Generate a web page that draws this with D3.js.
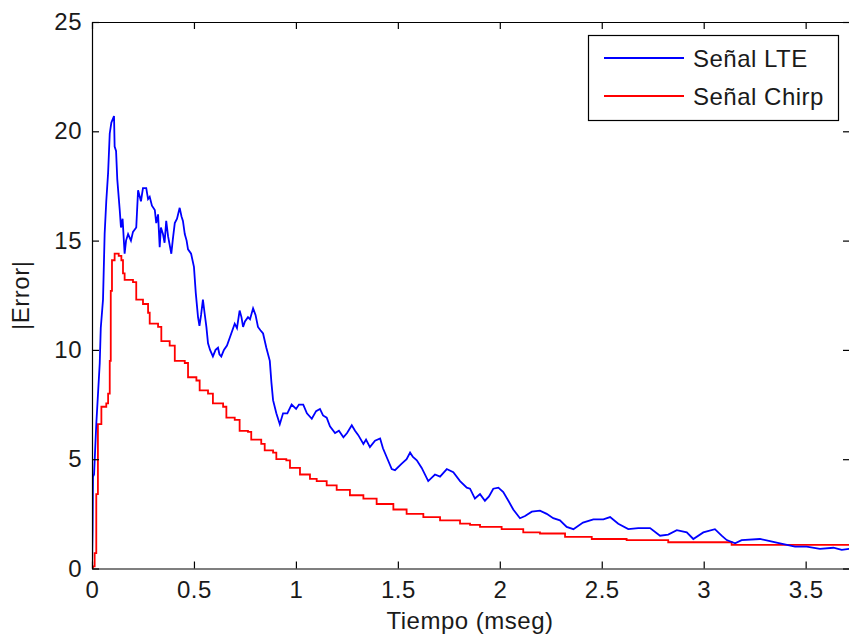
<!DOCTYPE html>
<html>
<head>
<meta charset="utf-8">
<script src="https://cdn.jsdelivr.net/npm/d3@7"></script>
<style>
  body { margin: 0; background: #fff; }
  svg text { font-family: "Liberation Sans", Arial, sans-serif; fill: #1a1a1a; letter-spacing: 0.5px; }
</style>
</head>
<body>
<div id="chart"></div>
<script>
const width = 849;
const height = 642;

// Señal LTE (tiempo en mseg, |error|)
const lteTime = [0, 0.003, 0.005, 0.010, 0.021, 0.038, 0.043, 0.054, 0.062, 0.070, 0.079, 0.087,
  0.095, 0.108, 0.111, 0.118, 0.124, 0.136, 0.142, 0.150, 0.160, 0.167, 0.177, 0.191, 0.201,
  0.217, 0.226, 0.240, 0.250, 0.266, 0.275, 0.283, 0.294, 0.308, 0.315, 0.324, 0.332, 0.338,
  0.348, 0.356, 0.364, 0.373, 0.389, 0.397, 0.406, 0.417, 0.430, 0.439, 0.446, 0.455, 0.464,
  0.471, 0.486, 0.500, 0.509, 0.520, 0.527, 0.535, 0.544, 0.552, 0.561, 0.569, 0.579, 0.593,
  0.606, 0.618, 0.625, 0.634, 0.647, 0.662, 0.683, 0.700, 0.711, 0.724, 0.733, 0.741, 0.750,
  0.765, 0.775, 0.790, 0.802, 0.814, 0.826, 0.839, 0.855, 0.872, 0.880, 0.888, 0.904, 0.921,
  0.937, 0.958, 0.979, 1.001, 1.015, 1.036, 1.054, 1.078, 1.099, 1.118, 1.133, 1.151, 1.167,
  1.192, 1.211, 1.233, 1.251, 1.274, 1.290, 1.306, 1.331, 1.344, 1.363, 1.388, 1.413, 1.427,
  1.445, 1.470, 1.486, 1.519, 1.543, 1.560, 1.574, 1.593, 1.617, 1.649, 1.682, 1.707, 1.740,
  1.772, 1.805, 1.838, 1.854, 1.878, 1.903, 1.927, 1.947, 1.968, 1.993, 2.017, 2.042, 2.066,
  2.099, 2.124, 2.157, 2.197, 2.230, 2.262, 2.295, 2.328, 2.361, 2.408, 2.459, 2.508, 2.541,
  2.581, 2.630, 2.679, 2.737, 2.786, 2.826, 2.868, 2.917, 2.949, 2.998, 3.055, 3.088, 3.113,
  3.154, 3.186, 3.276, 3.325, 3.374, 3.448, 3.505, 3.570, 3.636, 3.677, 3.713];
const lteError = [0, 1.8, 4.2, 4.3, 6.6, 9.4, 11.0, 12.3, 15.3, 16.8, 18.1, 19.9,
  20.4, 20.7, 19.3, 19.1, 17.8, 16.4, 15.6, 16.0, 14.4, 15.0, 15.3, 15.0, 15.4,
  15.6, 17.3, 16.8, 17.4, 17.4, 16.9, 17.0, 16.6, 16.4, 15.8, 16.2, 14.7, 15.6,
  15.3, 14.9, 15.9, 15.2, 14.4, 15.1, 15.8, 16.0, 16.5, 16.1, 15.9, 15.3, 15.0,
  14.6, 14.4, 13.8, 12.6, 11.5, 11.1, 11.6, 12.3, 11.7, 11.05, 10.3, 10.0, 9.7,
  10.0, 10.1, 9.8, 9.7, 10.0, 10.2, 10.75, 11.2, 11.0, 11.8, 11.5, 11.05, 11.3,
  11.5, 11.4, 11.9, 11.6, 11.05, 10.9, 10.75, 10.1, 9.5, 8.5, 7.7, 7.1, 6.6,
  7.1, 7.1, 7.5, 7.3, 7.5, 7.5, 7.1, 6.85, 7.2, 7.3, 7.0, 6.9, 6.5,
  6.2, 6.3, 6.0, 6.2, 6.55, 6.3, 6.1, 5.7, 5.9, 5.55, 5.85, 5.95, 5.5,
  5.1, 4.55, 4.5, 4.8, 5.0, 5.3, 5.1, 4.95, 4.6, 4.0, 4.3, 4.2, 4.55,
  4.4, 4.0, 3.7, 3.65, 3.2, 3.4, 3.1, 3.3, 3.65, 3.7, 3.5, 3.1, 2.7,
  2.3, 2.4, 2.6, 2.65, 2.5, 2.3, 2.2, 1.9, 1.8, 2.1, 2.25, 2.25, 2.35,
  2.05, 1.8, 1.85, 1.85, 1.5, 1.55, 1.75, 1.65, 1.35, 1.65, 1.8, 1.5, 1.3,
  1.15, 1.3, 1.35, 1.25, 1.15, 1.0, 1.0, 0.9, 0.95, 0.85, 0.9];

// Señal Chirp (escalonada)
const chirpTime = [0, 0.005, 0.013, 0.021, 0.029, 0.046, 0.070, 0.079, 0.087, 0.092, 0.098,
  0.111, 0.131, 0.144, 0.152, 0.160, 0.201, 0.217, 0.250, 0.275, 0.283, 0.324, 0.340, 0.381,
  0.406, 0.455, 0.471, 0.512, 0.528, 0.569, 0.593, 0.643, 0.659, 0.700, 0.724, 0.765, 0.781,
  0.830, 0.847, 0.888, 0.904, 0.953, 0.971, 1.020, 1.069, 1.102, 1.151, 1.200, 1.265, 1.331,
  1.396, 1.478, 1.543, 1.625, 1.707, 1.805, 1.854, 1.903, 2.009, 2.115, 2.197, 2.320, 2.451,
  2.622, 2.826, 3.137, 3.713];
const chirpError = [0, 0.1, 0.7, 3.4, 6.6, 7.4, 7.55, 8.0, 9.5, 12.7, 14.1,
  14.4, 14.3, 14.1, 13.5, 13.2, 13.1, 12.3, 12.1, 11.7, 11.2, 11.05, 10.4, 10.2,
  9.5, 9.4, 8.75, 8.6, 8.15, 8.0, 7.55, 7.4, 6.9, 6.8, 6.3, 6.25, 5.9,
  5.7, 5.4, 5.3, 5.0, 4.95, 4.6, 4.3, 4.1, 4.0, 3.8, 3.6, 3.35, 3.2,
  2.95, 2.7, 2.5, 2.35, 2.2, 2.05, 2.0, 1.9, 1.8, 1.65, 1.6, 1.45, 1.35,
  1.3, 1.2, 1.08, 1.05];

const xTicks = [0, 0.5, 1, 1.5, 2, 2.5, 3, 3.5];
const yTicks = [0, 5, 10, 15, 20, 25];
const seriesNames = ["Señal LTE", "Señal Chirp"];
const seriesColors = ["#0000ff", "#ff0000"];

const margin = { left: 92, right: 850, top: 22, bottom: 568.5 };

const svg = d3.select('#chart')
    .append('svg')
    .attr('width', width)
    .attr('height', height);

const x = d3.scaleLinear()
    .domain([0, 3.7175])
    .range([margin.left, margin.right]);

const y = d3.scaleLinear()
    .domain([0, 25])
    .range([margin.bottom, margin.top]);

const fontSize = 24;

// plot area
svg.append('clipPath').attr('id', 'plotclip')
    .append('rect')
    .attr('x', margin.left)
    .attr('y', margin.top)
    .attr('width', margin.right - margin.left)
    .attr('height', margin.bottom - margin.top);

const lteData = lteTime.map((t, i) => ({ t: t, v: lteError[i] }));
const chirpData = chirpTime.map((t, i) => ({ t: t, v: chirpError[i] }));

const lineLinear = d3.line()
    .x(d => x(d.t))
    .y(d => y(d.v));

const lineStep = d3.line()
    .curve(d3.curveStepAfter)
    .x(d => x(d.t))
    .y(d => y(d.v));

const plot = svg.append('g').attr('clip-path', 'url(#plotclip)');

plot.append('path')
    .datum(chirpData)
    .attr('d', lineStep)
    .attr('fill', 'none')
    .attr('stroke', seriesColors[1])
    .attr('stroke-width', 1.8);

plot.append('path')
    .datum(lteData)
    .attr('d', lineLinear)
    .attr('fill', 'none')
    .attr('stroke', seriesColors[0])
    .attr('stroke-width', 1.8);

// axes (ticks inward, MATLAB style)
const tickLen = 7;

const xAxis = svg.append('g')
    .attr('transform', `translate(0,${margin.bottom})`)
    .call(d3.axisBottom(x).tickValues(xTicks).tickFormat(d3.format('')).tickSizeInner(-tickLen).tickSizeOuter(0).tickPadding(12));

const xAxisTop = svg.append('g')
    .attr('transform', `translate(0,${margin.top})`)
    .call(d3.axisTop(x).tickValues(xTicks).tickFormat('').tickSizeInner(-tickLen).tickSizeOuter(0));

const yAxis = svg.append('g')
    .attr('transform', `translate(${margin.left},0)`)
    .call(d3.axisLeft(y).tickValues(yTicks).tickSizeInner(-tickLen).tickSizeOuter(0).tickPadding(10));

const yAxisRight = svg.append('g')
    .attr('transform', `translate(${margin.right},0)`)
    .call(d3.axisRight(y).tickValues(yTicks).tickFormat('').tickSizeInner(-tickLen).tickSizeOuter(0));

[xAxis, xAxisTop, yAxis, yAxisRight].forEach(g => {
    g.select('.domain').attr('stroke', '#000').attr('stroke-width', 1.2);
    g.selectAll('.tick line').attr('stroke', '#000').attr('stroke-width', 1.2);
    g.selectAll('.tick text')
        .attr('font-size', fontSize)
        .attr('font-family', '"Liberation Sans", Arial, sans-serif')
        .attr('fill', '#1a1a1a');
});

// axis titles
svg.append('text')
    .attr('x', (margin.left + margin.right) / 2 - 1)
    .attr('y', 629)
    .attr('text-anchor', 'middle')
    .attr('font-size', fontSize)
    .text('Tiempo (mseg)');

svg.append('text')
    .attr('transform', `translate(29,${(margin.top + margin.bottom) / 2}) rotate(-90)`)
    .attr('text-anchor', 'middle')
    .attr('font-size', fontSize)
    .text('|Error|');

// legend
const legend = svg.append('g');
legend.append('rect')
    .attr('x', 588.5)
    .attr('y', 35.5)
    .attr('width', 250)
    .attr('height', 85)
    .attr('fill', '#fff')
    .attr('stroke', '#000')
    .attr('stroke-width', 1.2);

seriesNames.forEach((name, i) => {
    const ly = 58 + i * 38;
    legend.append('line')
        .attr('x1', 604).attr('x2', 684)
        .attr('y1', ly).attr('y2', ly)
        .attr('stroke', seriesColors[i])
        .attr('stroke-width', 1.8);
    legend.append('text')
        .attr('x', 693)
        .attr('y', ly + 8.5)
        .attr('font-size', fontSize)
        .text(name);
});
</script>
</body>
</html>
